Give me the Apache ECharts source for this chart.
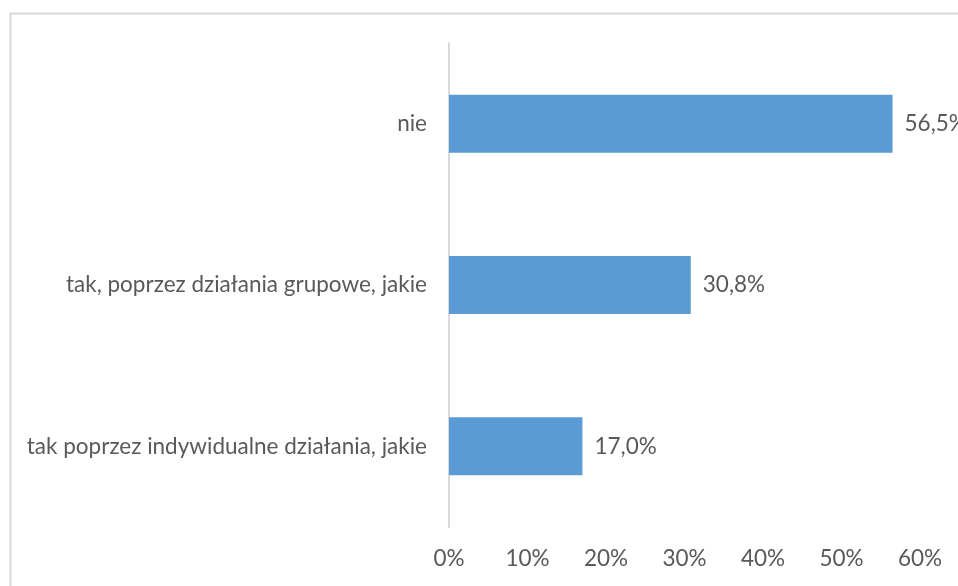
<!DOCTYPE html>
<html>
<head>
<meta charset="utf-8">
<style>
html,body{margin:0;padding:0;background:#fff;}
#chart{width:958px;height:586px;}
</style>
<script src="https://cdn.jsdelivr.net/npm/echarts@6/dist/echarts.min.js"></script>
</head>
<body>
<div id="chart"></div>
<script>
const categories = ["nie", "tak, poprzez działania grupowe, jakie", "tak poprzez indywidualne działania, jakie"];
const values = [56.5, 30.8, 17.0];
const xTicks = [0, 10, 20, 30, 40, 50, 60];

const chart = echarts.init(document.getElementById('chart'), null, {renderer: 'canvas'});
const font = 'Lato, "Noto Sans", sans-serif';
const fs = 22.5;
chart.setOption({
  animation: false,
  backgroundColor: '#ffffff',
  graphic: [{
    type: 'rect',
    shape: {x: 10.5, y: 13.5, width: 1200, height: 1200},
    style: {fill: 'none', stroke: '#d9d9d9', lineWidth: 2},
    silent: true
  }],
  grid: {left: 449, right: 38, top: 43, bottom: 59, containLabel: false},
  xAxis: {
    type: 'value',
    min: xTicks[0],
    max: xTicks[xTicks.length - 1],
    interval: 10,
    splitLine: {show: false},
    axisLine: {show: false},
    axisTick: {show: false},
    axisLabel: {
      color: '#595959', fontSize: fs, fontFamily: font, margin: 20,
      formatter: v => v + '%'
    }
  },
  yAxis: {
    type: 'category',
    data: categories,
    inverse: true,
    axisLine: {show: true, lineStyle: {color: '#d9d9d9', width: 2}},
    axisTick: {show: false},
    axisLabel: {color: '#595959', fontSize: fs, fontFamily: font, margin: 22}
  },
  series: [{
    type: 'bar',
    data: values,
    barWidth: 58,
    itemStyle: {color: '#5b9bd5'},
    label: {
      show: true, position: 'right', distance: 12,
      color: '#595959', fontSize: fs, fontFamily: font,
      formatter: p => p.value.toFixed(1).replace('.', ',') + '%'
    }
  }]
});
</script>
</body>
</html>
